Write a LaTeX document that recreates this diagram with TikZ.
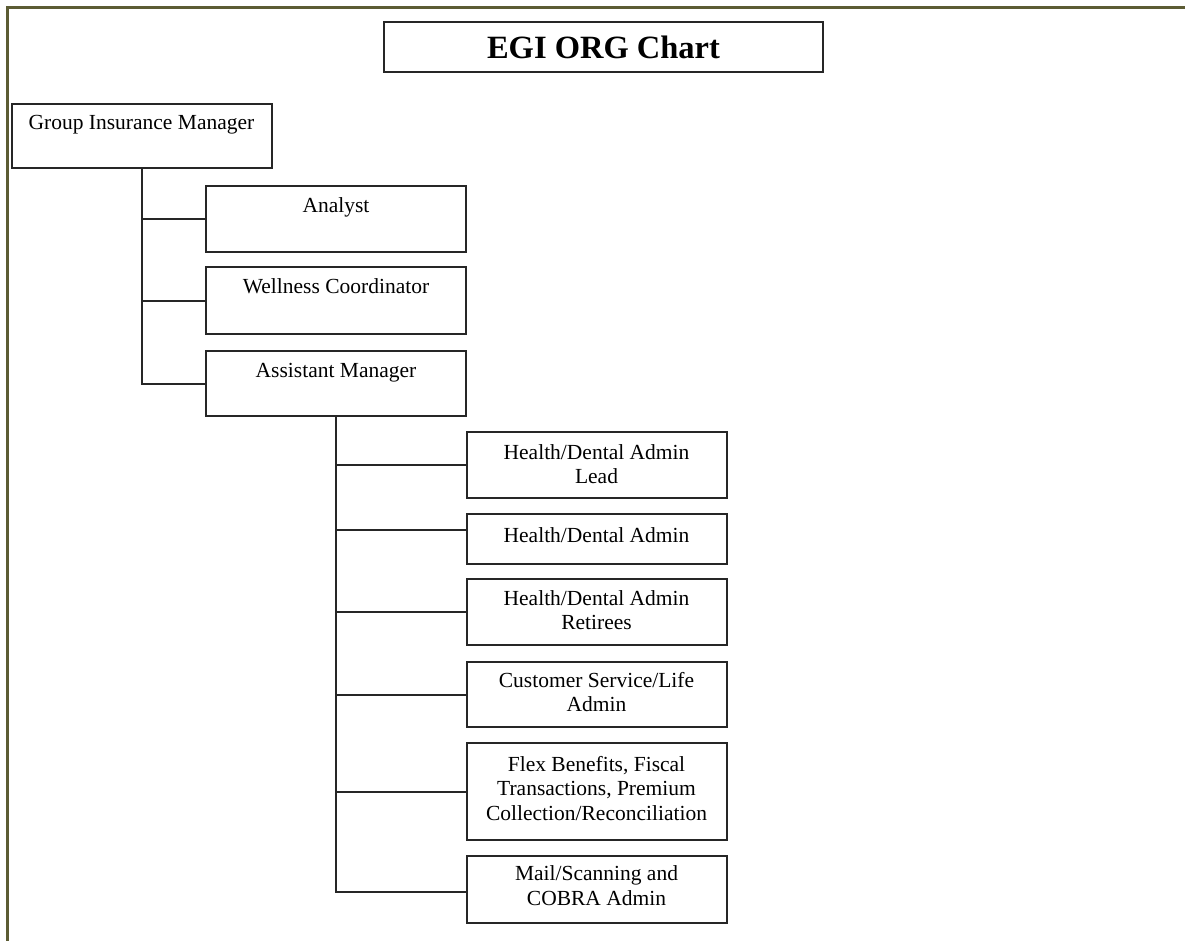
\documentclass[tikz,border=0pt]{standalone}
\usepackage{fontspec}
\setmainfont{Liberation Serif}
\newcommand\boxtext[3]{\parbox[c][#1][t]{256pt}{\centering\rule{0pt}{#2}#3}}
\begin{document}
\begin{tikzpicture}[x=1pt,y=-1pt,
  box/.style={draw=black!85, line width=2pt, inner sep=0pt, minimum width=260pt,
    font=\fontsize{21.5}{24.5}\selectfont},
  titlebox/.style={draw=black!85, line width=2pt, inner sep=0pt, minimum width=439pt,
    minimum height=50pt, font=\bfseries\fontsize{32.5}{35}\selectfont},
  conn/.style={draw=black!85, line width=2pt},
  frame/.style={draw={rgb,255:red,92;green,92;blue,52}, line width=3pt, line join=miter}]
\useasboundingbox (0,0) rectangle (1185,941);

% frame
\coordinate (fa) at (7,941);
\coordinate (fb) at (7,8);
\coordinate (fc) at (1185,8);
\draw[frame] (fa) -- (fb) -- (fc);

% title
\node[titlebox] (title) at (603.5,47) {EGI ORG Chart};

% level 1
\node[box] (gim) at (141.5,136) {\boxtext{64pt}{26pt}{Group Insurance Manager}};

% level 2
\node[box] (an) at (336,219) {\boxtext{66pt}{26.5pt}{Analyst}};
\node[box] (wc) at (336,300.5) {\boxtext{67pt}{26.5pt}{Wellness Coordinator}};
\node[box] (am) at (336,383.5) {\boxtext{65pt}{26.5pt}{Assistant Manager}};

% level 3
\node[box] (hdl) at (596.5,465) {\boxtext{66pt}{27pt}{Health/Dental Admin\\Lead}};
\node[box] (hda) at (596.5,539) {\boxtext{50pt}{28pt}{Health/Dental Admin}};
\node[box] (hdr) at (596.5,612) {\boxtext{66pt}{26pt}{Health/Dental Admin\\Retirees}};
\node[box] (csl) at (596.5,694.5) {\boxtext{65pt}{25pt}{Customer Service/Life\\Admin}};
\node[box] (flex) at (596.5,791.5) {\boxtext{97pt}{28pt}{Flex Benefits, Fiscal\\Transactions, Premium\\Collection/Reconciliation}};
\node[box] (mail) at (596.5,889.5) {\boxtext{67pt}{24.5pt}{Mail/Scanning and\\COBRA Admin}};

% connectors
\draw[conn] (gim.south) |- (an.west);
\draw[conn] (gim.south) |- (wc.west);
\draw[conn] (gim.south) |- (am.west);

\draw[conn] (am.south) |- (hdl.west);
\draw[conn] (am.south) |- ([yshift=9pt]hda.west);
\draw[conn] (am.south) |- (hdr.west);
\draw[conn] (am.south) |- (csl.west);
\draw[conn] (am.south) |- (flex.west);
\draw[conn] (am.south) |- ([yshift=-2.5pt]mail.west);
\end{tikzpicture}
\end{document}
